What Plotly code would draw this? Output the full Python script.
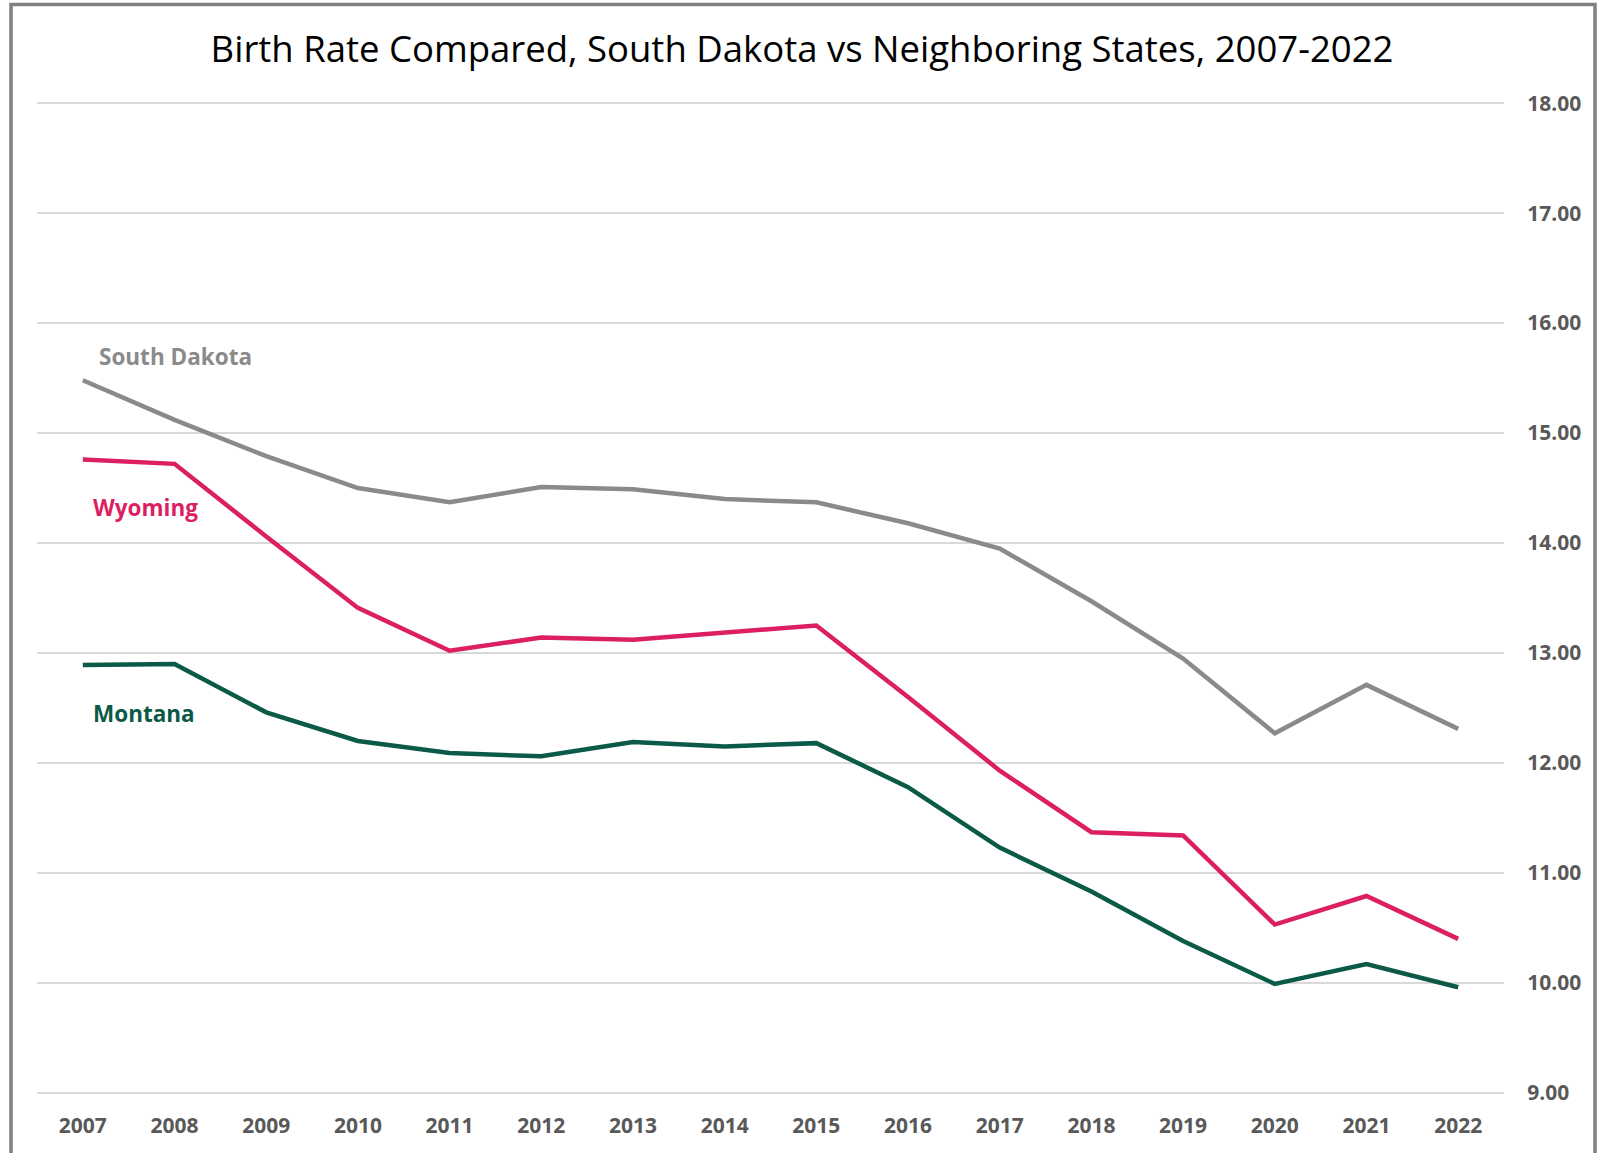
import plotly.graph_objects as go

years = [str(y) for y in range(2007, 2023)]
south_dakota = [15.48, 15.12, 14.79, 14.50, 14.37, 14.51, 14.49, 14.40, 14.37, 14.18, 13.95, 13.47, 12.95, 12.27, 12.71, 12.31]
wyoming = [14.76, 14.72, 14.06, 13.41, 13.02, 13.14, 13.12, 13.18, 13.25, 12.60, 11.93, 11.37, 11.34, 10.53, 10.79, 10.40]
montana = [12.89, 12.90, 12.46, 12.20, 12.09, 12.06, 12.19, 12.15, 12.18, 11.78, 11.23, 10.83, 10.38, 9.99, 10.17, 9.96]
y_ticks = [9, 10, 11, 12, 13, 14, 15, 16, 17, 18]

C_SD = "#8a8a8a"
C_WY = "#dc1f63"
C_MT = "#0b5a48"
FONT = "Open Sans"

fig = go.Figure()
for name, vals, col in [("South Dakota", south_dakota, C_SD),
                        ("Wyoming", wyoming, C_WY),
                        ("Montana", montana, C_MT)]:
    fig.add_trace(go.Scatter(x=years, y=vals, mode="lines", name=name,
                             line=dict(color=col, width=4.5), hoverinfo="skip"))

W, H = 1604, 1153
pl, pr, pt, pb = 37, 1504, 100.5, 1095.5

fig.update_layout(
    width=W, height=H,
    margin=dict(l=pl, r=W - pr, t=pt, b=H - pb, autoexpand=False),
    paper_bgcolor="white", plot_bgcolor="white",
    showlegend=False,
    title=dict(text="Birth Rate Compared, South Dakota vs Neighboring States, 2007-2022",
               x=0.5, xref="container", xanchor="center",
               y=1 - 49 / H, yref="container", yanchor="middle",
               font=dict(family=FONT, size=36.5, color="#000000")),
    xaxis=dict(type="category", range=[-0.5, 15.5], showgrid=False, zeroline=False,
               showline=False, automargin=False,
               ticks="outside", ticklen=12, tickcolor="rgba(0,0,0,0)",
               tickfont=dict(family=FONT, size=21, color="#595959", weight="bold")),
    yaxis=dict(side="right", range=[8.98, 18.02], tickvals=y_ticks,
               ticktext=[f"{v:.2f}" for v in y_ticks], automargin=False,
               showgrid=True, gridcolor="#d9d9d9", gridwidth=1.5, zeroline=False,
               showline=False, ticks="outside", ticklen=18, tickcolor="rgba(0,0,0,0)",
               tickfont=dict(family=FONT, size=21, color="#595959", weight="bold")),
)

labels = [("South Dakota", 15.70, C_SD, 14),
          ("Wyoming", 14.32, C_WY, 8),
          ("Montana", 12.45, C_MT, 8)]
for text, yv, col, xs in labels:
    fig.add_annotation(x=0, y=yv, xref="x", yref="y", text=text, showarrow=False,
                       xanchor="left", yanchor="middle", xshift=xs,
                       font=dict(family=FONT, size=22.5, color=col, weight="bold"))

# outer border
def px(x):
    return (x - pl) / (pr - pl)
def py(y):
    return (pb - y) / (pb - pt)
fig.add_shape(type="rect", xref="paper", yref="paper",
              x0=px(11), x1=px(1595), y0=py(1165), y1=py(4),
              line=dict(color="#808080", width=3.5), layer="above")

fig.write_html("out.html", config={"displayModeBar": False},
               post_script="document.body.style.margin='0';")
